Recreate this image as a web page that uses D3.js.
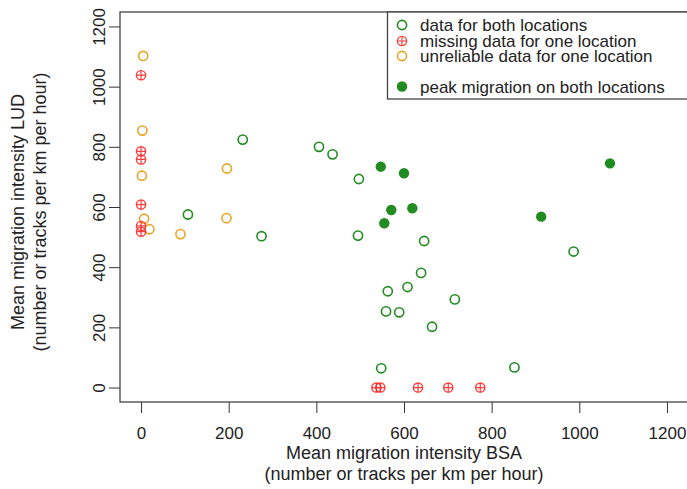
<!DOCTYPE html>
<html>
<head>
<meta charset="UTF-8">
<title>Migration intensity BSA vs LUD</title>
<style>
  html, body { margin: 0; padding: 0; background: #fff; }
  svg { display: block; font-family: "Liberation Sans", Arial, sans-serif; }
</style>
</head>
<body>
<svg width="687" height="489"></svg>
<script src="https://d3js.org/d3.v7.min.js"></script>
<script>
// data: [BSA, LUD]
var bothX = [232, 107, 275, 406, 437, 497, 495, 646, 639, 608, 563, 559, 589, 716, 664, 987, 548, 852];
var bothY = [824, 575, 503, 800, 775, 693, 505, 487, 381, 334, 320, 253, 250, 293, 202, 452, 64, 67];

var missingX = [0, 0, 0, 0, 0, 0, 537, 546, 632, 701, 774];
var missingY = [1038, 785, 758, 608, 537, 518, 0, 0, 0, 0, 0];

var unreliableX = [5, 3, 196, 2, 7, 195, 19, 90];
var unreliableY = [1102, 854, 728, 704, 561, 563, 526, 510];

var peakX = [547, 600, 571, 619, 555, 913, 1070];
var peakY = [734, 712, 590, 596, 546, 568, 745];

var ticks = [0, 200, 400, 600, 800, 1000, 1200];

var legendLabels = ["data for both locations", "missing data for one location",
  "unreliable data for one location", "peak migration on both locations"];

var green = "#228b22", red = "#ff2a2a", orange = "#e8a428";

var svg = d3.select("svg");
var pLeft = 120, pRight = 688, pTop = 12, pBottom = 402;

// R style 4% padding around 0..1200
var x = d3.scaleLinear().domain([-48, 1248]).range([pLeft, pRight]);
var y = d3.scaleLinear().domain([-48, 1248]).range([pBottom, pTop]);

function zip(a, b) { return a.map(function (v, i) { return [v, b[i]]; }); }

// axes
var xAxis = svg.append("g").attr("transform", "translate(0," + pBottom + ")")
  .call(d3.axisBottom(x).tickValues(ticks).tickSize(11).tickPadding(14).tickFormat(d3.format("d")));
var yAxis = svg.append("g").attr("transform", "translate(" + pLeft + ",0)")
  .call(d3.axisLeft(y).tickValues(ticks).tickSize(11).tickFormat(d3.format("d")));
[xAxis, yAxis].forEach(function (g) {
  g.select(".domain").remove();
  g.selectAll("line").attr("stroke", "#333").attr("stroke-width", 1);
  g.selectAll("text").attr("font-size", 17).attr("fill", "#222")
    .attr("font-family", "Liberation Sans, Arial, sans-serif");
});
yAxis.selectAll("text")
  .attr("x", null).attr("dy", null)
  .attr("text-anchor", "middle")
  .attr("transform", "translate(-15,0) rotate(-90)")
  .attr("y", 0);

// plot box
svg.append("rect").attr("x", pLeft).attr("y", pTop)
  .attr("width", pRight - pLeft).attr("height", pBottom - pTop)
  .attr("fill", "none").attr("stroke", "#444").attr("stroke-width", 1.3);

// axis titles
var xt = svg.append("text").attr("text-anchor", "middle").attr("font-size", 18).attr("fill", "#222");
xt.append("tspan").attr("x", 404).attr("y", 459).text("Mean migration intensity BSA");
xt.append("tspan").attr("x", 404).attr("y", 480).text("(number or tracks per km per hour)");

var yt = svg.append("text").attr("text-anchor", "middle").attr("font-size", 18).attr("fill", "#222")
  .attr("transform", "translate(0,212) rotate(-90)");
yt.append("tspan").attr("x", 0).attr("y", 24).text("Mean migration intensity LUD");
yt.append("tspan").attr("x", 0).attr("y", 46).text("(number or tracks per km per hour)");

// symbol helpers
function openCircle(g, cx, cy, col) {
  g.append("circle").attr("cx", cx).attr("cy", cy).attr("r", 4.6)
    .attr("fill", "none").attr("stroke", col).attr("stroke-width", 1.6);
}
function crossCircle(g, cx, cy) {
  g.append("circle").attr("cx", cx).attr("cy", cy).attr("r", 4.6)
    .attr("fill", "none").attr("stroke", red).attr("stroke-width", 1.4).attr("opacity", 0.9);
  g.append("path").attr("d", "M" + (cx - 4.6) + "," + cy + "H" + (cx + 4.6) + "M" + cx + "," + (cy - 4.6) + "V" + (cy + 4.6))
    .attr("stroke", red).attr("stroke-width", 1.2).attr("opacity", 0.9);
}
function filledCircle(g, cx, cy) {
  g.append("circle").attr("cx", cx).attr("cy", cy).attr("r", 5.2).attr("fill", green);
}

var pts = svg.append("g");
zip(bothX, bothY).forEach(function (d) { openCircle(pts, x(d[0]), y(d[1]), green); });
zip(unreliableX, unreliableY).forEach(function (d) { openCircle(pts, x(d[0]), y(d[1]), orange); });
zip(missingX, missingY).forEach(function (d) { crossCircle(pts, x(d[0]), y(d[1])); });
zip(peakX, peakY).forEach(function (d) { filledCircle(pts, x(d[0]), y(d[1])); });

// legend
var lg = svg.append("g");
lg.append("rect").attr("x", 387.5).attr("y", pTop).attr("width", 310).attr("height", 99 - pTop)
  .attr("fill", "#fff").attr("stroke", "#444").attr("stroke-width", 1.3);
var rowsY = [25, 41, 56, 86.5];
openCircle(lg, 402, rowsY[0], green);
crossCircle(lg, 402, rowsY[1]);
openCircle(lg, 402, rowsY[2], orange);
filledCircle(lg, 402, rowsY[3]);
legendLabels.forEach(function (t, i) {
  lg.append("text").attr("x", 420).attr("y", rowsY[i] + 6).attr("font-size", 17)
    .attr("fill", "#222").text(t);
});
</script>
</body>
</html>
